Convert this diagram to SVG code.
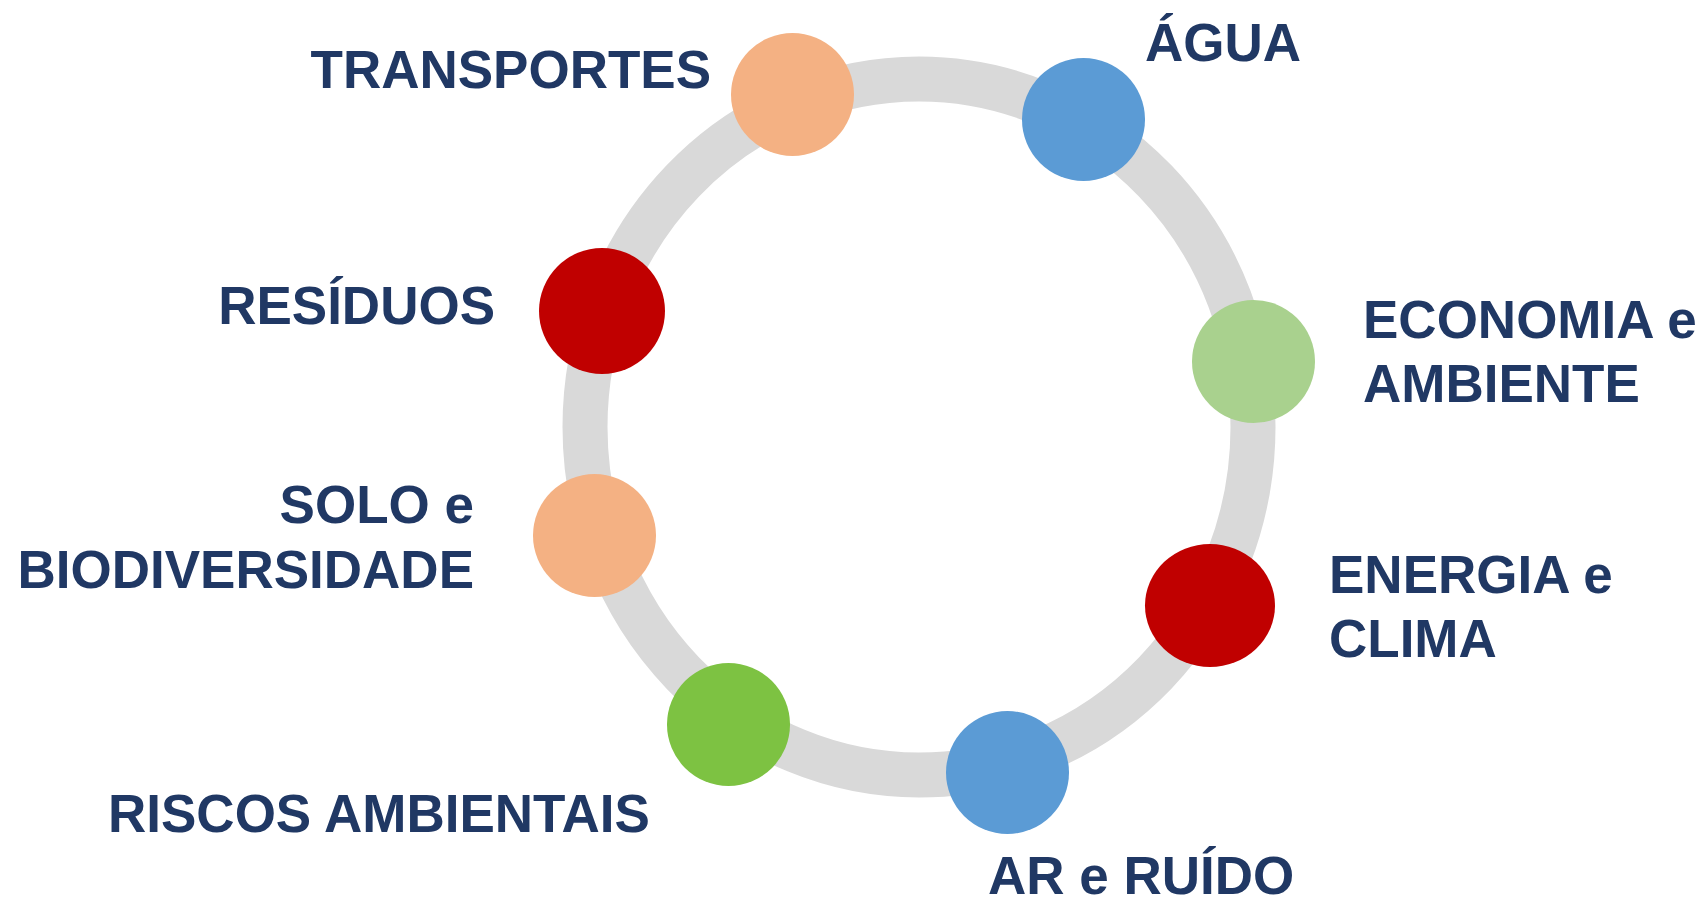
<svg xmlns="http://www.w3.org/2000/svg" width="1706" height="903" viewBox="0 0 1706 903">
<style>
.lbl{font-family:"Liberation Sans",Arial,sans-serif;font-weight:bold;font-size:53px;fill:#203864}
.end{text-anchor:end}
.peach{fill:#F4B183}.blue{fill:#5B9BD5}.lgreen{fill:#A9D18E}.red{fill:#C00000}.green{fill:#7DC242}
</style>
<rect width="1706" height="903" fill="#FFFFFF"/>
<g id="connectors">
<ellipse cx="919" cy="427" rx="334" ry="348" fill="none" stroke="#D9D9D9" stroke-width="45"/>
</g>
<g id="transportes">
<circle class="peach" cx="792.5" cy="94.5" r="61.5"/>
<text class="lbl end" x="711" y="88">TRANSPORTES</text>
</g>
<g id="agua">
<circle class="blue" cx="1083.5" cy="119.5" r="61.5"/>
<text class="lbl" x="1145" y="61">ÁGUA</text>
</g>
<g id="economia">
<circle class="lgreen" cx="1253.5" cy="361.5" r="61.5"/>
<text class="lbl" x="1363" y="338">ECONOMIA e</text>
<text class="lbl" x="1363" y="402">AMBIENTE</text>
</g>
<g id="energia">
<ellipse class="red" cx="1210" cy="605.5" rx="65" ry="61.5"/>
<text class="lbl" x="1329" y="593">ENERGIA e</text>
<text class="lbl" x="1329" y="657">CLIMA</text>
</g>
<g id="ar">
<circle class="blue" cx="1007.5" cy="772.5" r="61.5"/>
<text class="lbl" x="988" y="894">AR e RUÍDO</text>
</g>
<g id="riscos">
<circle class="green" cx="728.5" cy="724.5" r="61.5"/>
<text class="lbl" x="108" y="832">RISCOS AMBIENTAIS</text>
</g>
<g id="solo">
<circle class="peach" cx="594.5" cy="535.5" r="61.5"/>
<text class="lbl end" x="474" y="523">SOLO e</text>
<text class="lbl end" x="474" y="588">BIODIVERSIDADE</text>
</g>
<g id="residuos">
<circle class="red" cx="602" cy="311" r="63"/>
<text class="lbl end" x="495" y="324">RESÍDUOS</text>
</g>
</svg>
